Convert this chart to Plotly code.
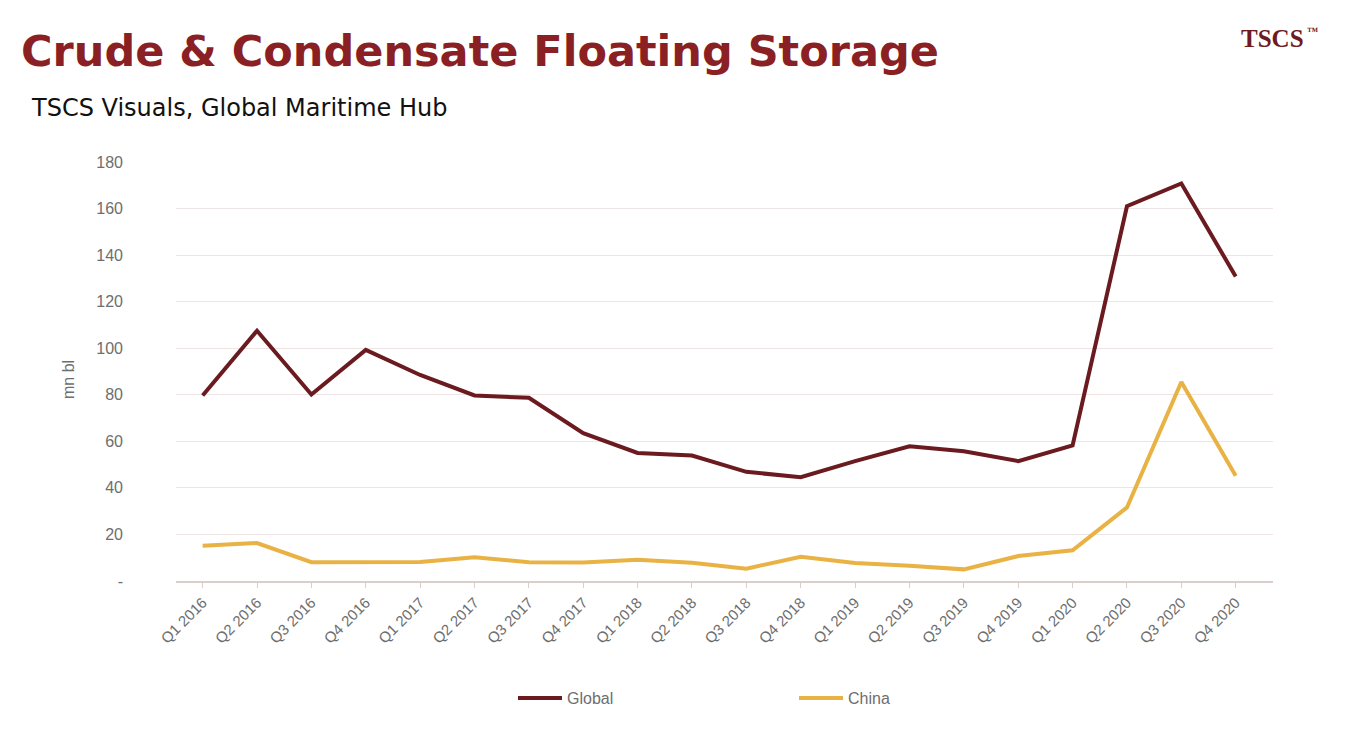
import plotly.graph_objects as go

quarters = ["Q1 2016", "Q2 2016", "Q3 2016", "Q4 2016",
            "Q1 2017", "Q2 2017", "Q3 2017", "Q4 2017",
            "Q1 2018", "Q2 2018", "Q3 2018", "Q4 2018",
            "Q1 2019", "Q2 2019", "Q3 2019", "Q4 2019",
            "Q1 2020", "Q2 2020", "Q3 2020", "Q4 2020"]

global_mnbl = [79.7, 107.5, 80.1, 99.3, 88.5, 79.7, 78.7, 63.5,
               55.0, 53.9, 46.9, 44.6, 51.5, 57.9, 55.7, 51.5,
               58.2, 161.0, 170.8, 130.8]

china_mnbl = [15.1, 16.3, 8.1, 8.1, 8.2, 10.2, 8.1, 8.0,
              9.1, 7.8, 5.3, 10.4, 7.7, 6.5, 5.0, 10.7,
              13.2, 31.6, 85.5, 45.2]

y_ticks = [0, 20, 40, 60, 80, 100, 120, 140, 160, 180]
y_tick_labels = ["-", "20", "40", "60", "80", "100", "120", "140", "160", "180"]

# page has an 8px body margin, so the figure is drawn 8px in from the corner
OFF = 8
W, H = 1355 - 2 * OFF, 737 - 2 * OFF
L, R, T, B = 176 - OFF, W - (1273 - OFF), 162 - OFF, H - (581 - OFF)


def px(x, y):
    # page pixel -> paper coords
    x, y = x - OFF, y - OFF
    return (x - L) / (W - L - R), (H - B - y) / (H - T - B)


fig = go.Figure()
fig.add_trace(go.Scatter(x=quarters, y=global_mnbl, mode="lines", name="Global",
                         line=dict(color="#6b1b20", width=4)))
fig.add_trace(go.Scatter(x=quarters, y=china_mnbl, mode="lines", name="China",
                         line=dict(color="#e9b244", width=4)))

fig.update_xaxes(range=[-0.49, 19.686], showgrid=False,
                 showline=True, linecolor="#dccdcd", linewidth=2,
                 ticks="outside", ticklen=5, tickcolor="#dccdcd", tickwidth=1,
                 tickangle=-45, tickfont=dict(family="Liberation Sans", size=15, color="#6e6e6e"))
fig.update_yaxes(range=[0, 180], tickvals=y_ticks, ticktext=y_tick_labels,
                 showgrid=True, gridcolor="#efe4e4", gridwidth=1, zeroline=False,
                 ticklabelstandoff=52,
                 tickfont=dict(family="Liberation Sans", size=16, color="#6e6e6e"))

ax, ay = px(19, 51)
bx, by = px(29, 108)
cx, cy = px(1306, 38)
tx, ty = px(1305, 31)
dx, dy = px(68, 380)
fig.update_layout(
    width=W, height=H,
    margin=dict(l=L, r=R, t=T, b=B),
    paper_bgcolor="white", plot_bgcolor="rgba(0,0,0,0)",
    showlegend=True,
    legend=dict(orientation="h", x=px(513, 0)[0], xanchor="left",
                y=px(0, 698)[1], yanchor="middle",
                itemwidth=44, entrywidth=222, entrywidthmode="pixels",
                font=dict(family="Liberation Sans", size=16, color="#6e6e6e")),
    annotations=[
        dict(text="Crude & Condensate Floating Storage", x=ax, y=ay, xref="paper", yref="paper",
             xanchor="left", yanchor="middle", showarrow=False,
             font=dict(family="DejaVu Sans", size=43, color="#8a1f24", weight="bold")),
        dict(text="TSCS Visuals, Global Maritime Hub", x=bx, y=by, xref="paper", yref="paper",
             xanchor="left", yanchor="middle", showarrow=False,
             font=dict(family="DejaVu Sans", size=24, color="#111111")),
        dict(text="TSCS", x=cx, y=cy, xref="paper", yref="paper",
             xanchor="right", yanchor="middle", showarrow=False,
             font=dict(family="Liberation Serif", size=25, color="#6e1a1e", weight="bold")),
        dict(text="™", x=tx, y=ty, xref="paper", yref="paper",
             xanchor="left", yanchor="middle", showarrow=False,
             font=dict(family="Liberation Serif", size=11, color="#6e1a1e", weight="bold")),
        dict(text="mn bl", x=dx, y=dy, xref="paper", yref="paper", textangle=-90,
             xanchor="center", yanchor="middle", showarrow=False,
             font=dict(family="Liberation Sans", size=16, color="#6e6e6e")),
    ],
)

fig.write_html("out.html")
